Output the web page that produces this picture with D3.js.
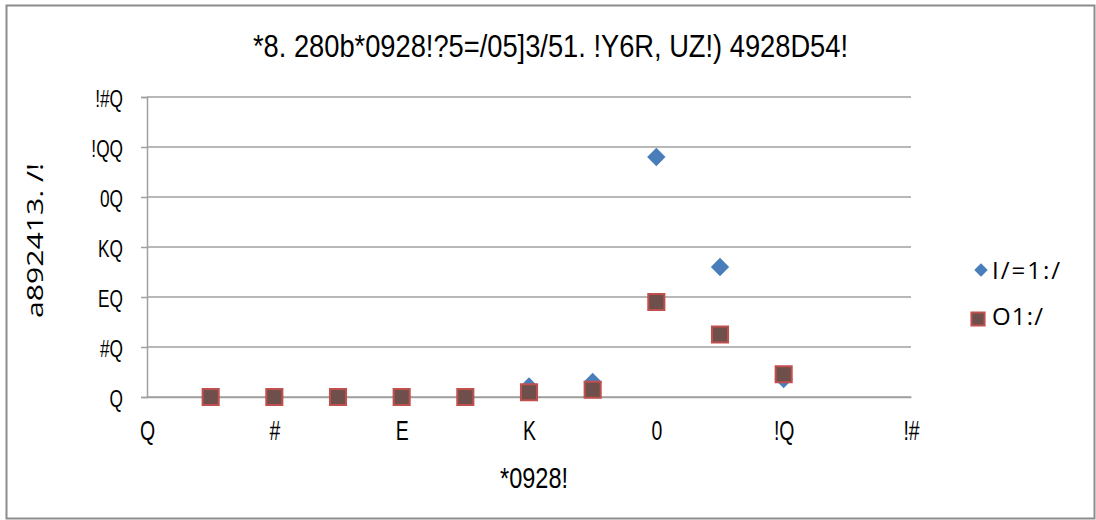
<!DOCTYPE html>
<html>
<head>
<meta charset="utf-8">
<script src="https://cdn.jsdelivr.net/npm/d3@7"></script>
<style>
  body { margin: 0; background: #fff; }
  text { font-family: "Liberation Sans", Arial, sans-serif; fill: #000; }
  text.plain { font-family: "Open Sans", "Lato", sans-serif; }
</style>
</head>
<body>
<svg id="chart"></svg>
<script>
/* data */
var xValues = [1, 2, 3, 4, 5, 6, 7, 8, 9, 10];
var seriesA = [0, 0, 0, 0, 0, 4.2, 6, 96, 52, 7.2];
var seriesB = [0, 0, 0, 0, 0, 1.9, 2.9, 38, 25, 9.1];
var seriesNames = ["I/=1:/", "O1:/"];

var xTicks = [0, 2, 4, 6, 8, 10, 12];
var xTickLabels = ["Q", "#", "E", "K", "0", "!Q", "!#"];
var yTicks = [0, 20, 40, 60, 80, 100, 120];
var yTickLabels = ["Q", "#Q", "EQ", "KQ", "0Q", "!QQ", "!#Q"];

var title = "*8. 280b*0928!?5=/05]3/51. !Y6R, UZ!) 4928D54!";
var xTitle = "*0928!";
var yTitle = "a892413. /!";

var width = 1096, height = 520;
var narrow = 0.72; /* the tick font is a tall condensed face */
var svg = d3.select("#chart").attr("width", width).attr("height", height);

/* outer border */
svg.append("rect")
	.attr("x", 6.5).attr("y", 5.5)
	.attr("width", 1088).attr("height", 513)
	.attr("fill", "#fff")
	.attr("stroke", "#8c8c8c")
	.attr("stroke-width", 2);

var x = d3.scaleLinear().domain([0, 12]).range([147, 911]);
var y = d3.scaleLinear().domain([0, 120]).range([397, 97]);

/* gridlines */
svg.append("g")
	.selectAll("line")
	.data(yTicks)
	.enter()
	.append("line")
	.attr("x1", x(0)).attr("x2", x(12))
	.attr("y1", function(d) { return y(d); })
	.attr("y2", function(d) { return y(d); })
	.attr("stroke", "#a0a0a0")
	.attr("stroke-width", 1.5);

/* y axis */
var yAxis = svg.append("g")
	.attr("transform", "translate(" + x(0) + ",0)")
	.call(d3.axisLeft(y).tickValues(yTicks).tickSize(6).tickPadding(18)
		.tickFormat(function(d, i) { return yTickLabels[i]; }));
yAxis.attr("font-family", null).attr("font-size", null);
yAxis.select(".domain").attr("stroke", "#a0a0a0").attr("stroke-width", 1.5);
yAxis.selectAll(".tick line").attr("stroke", "#a0a0a0").attr("stroke-width", 1.5);
yAxis.selectAll("text")
	.attr("font-size", 24)
	.attr("fill", "#000")
	.attr("x", -24 / narrow)
	.attr("dy", null)
	.attr("y", 9)
	.attr("transform", "scale(" + narrow + ",1)");

/* x axis */
var xAxis = svg.append("g")
	.attr("transform", "translate(0," + y(0) + ")")
	.call(d3.axisBottom(x).tickValues(xTicks).tickSize(0)
		.tickFormat(function(d, i) { return xTickLabels[i]; }));
xAxis.attr("font-family", null).attr("font-size", null);
xAxis.select(".domain").attr("stroke", "#a0a0a0").attr("stroke-width", 1.5);
xAxis.selectAll("text")
	.attr("font-size", 27)
	.attr("fill", "#000")
	.attr("dy", null)
	.attr("y", 43)
	.attr("transform", "scale(" + narrow + ",1)");

/* titles */
svg.append("text")
	.attr("x", 253).attr("y", 57)
	.attr("font-size", 32)
	.attr("textLength", 595)
	.attr("lengthAdjust", "spacingAndGlyphs")
	.text(title);

svg.append("text")
	.attr("x", 500).attr("y", 488)
	.attr("font-size", 30)
	.attr("textLength", 68)
	.attr("lengthAdjust", "spacingAndGlyphs")
	.text(xTitle);

svg.append("text")
	.attr("class", "plain")
	.attr("transform", "translate(43,318) rotate(-90)")
	.attr("font-size", 22)
	.attr("textLength", 155)
	.attr("lengthAdjust", "spacingAndGlyphs")
	.text(yTitle);

var diamond = d3.symbol().type(d3.symbolDiamond2).size(215);
var square = d3.symbol().type(d3.symbolSquare2).size(330);

/* series A: blue diamonds */
svg.append("g")
	.selectAll("path")
	.data(xValues)
	.enter()
	.append("path")
	.attr("d", diamond)
	.attr("transform", function(d, i) { return "translate(" + x(d) + "," + y(seriesA[i]) + ")"; })
	.attr("fill", "#4a7ebb");

/* series B: brown squares with red border */
svg.append("g")
	.selectAll("path")
	.data(xValues)
	.enter()
	.append("path")
	.attr("d", square)
	.attr("transform", function(d, i) { return "translate(" + x(d) + "," + y(seriesB[i]) + ")"; })
	.attr("fill", "#6e4f4c")
	.attr("stroke", "#c0504d")
	.attr("stroke-width", 2);

/* legend */
var legend = svg.append("g");
legend.append("path")
	.attr("d", d3.symbol().type(d3.symbolDiamond2).size(115))
	.attr("transform", "translate(981,270)")
	.attr("fill", "#4a7ebb");
legend.append("path")
	.attr("d", d3.symbol().type(d3.symbolSquare2).size(220))
	.attr("transform", "translate(978,319)")
	.attr("fill", "#6e4f4c")
	.attr("stroke", "#c0504d")
	.attr("stroke-width", 2);
var legendWidths = [68, 51];
legend.selectAll("text")
	.data(seriesNames)
	.enter()
	.append("text")
	.attr("class", "plain")
	.attr("x", 992)
	.attr("y", function(d, i) { return 279 + i * 46; })
	.attr("font-size", 24)
	.attr("textLength", function(d, i) { return legendWidths[i]; })
	.attr("lengthAdjust", "spacing")
	.text(function(d) { return d; });
</script>
</body>
</html>
